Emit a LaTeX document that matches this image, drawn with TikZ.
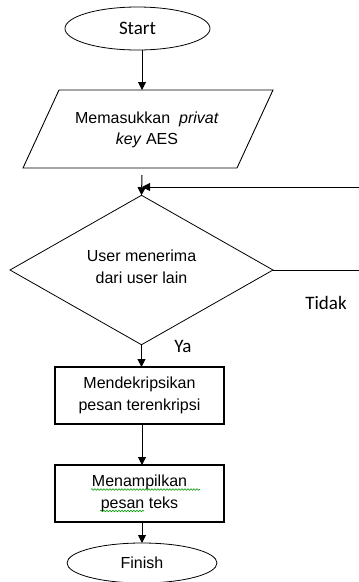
\documentclass[tikz,border=0pt]{standalone}
\usepackage{fontspec}
\setmainfont{Liberation Sans}
\newfontfamily\calfont{Carlito}
\usetikzlibrary{shapes.geometric,arrows.meta,decorations.pathmorphing}
\begin{document}
\begin{tikzpicture}[x=1pt,y=-1pt,
  every node/.style={font=\fontsize{16}{21.5}\selectfont, inner sep=0pt, outer sep=0pt},
  termbox/.style={draw, ellipse, line width=0.8pt},
  procbox/.style={draw, rectangle, line width=1.1pt, minimum width=169pt, minimum height=57pt, align=center},
  decbox/.style={draw, diamond, line width=0.8pt, minimum width=263pt, minimum height=114pt, align=center, text depth=7pt},
  iobox/.style={draw, line width=0.9pt},
  conn/.style={line width=1pt, -{Triangle[length=8pt,width=8pt]}},
  lbl/.style={font=\calfont\fontsize{19}{22}\selectfont},
  wavy/.style={draw=green!60!black, line width=0.6pt, decorate, decoration={snake, amplitude=0.8pt, segment length=3pt}}]
\useasboundingbox (0,0) rectangle (359,582);
\clip (0,0) rectangle (359,582);
% start
\node[termbox, minimum width=145pt, minimum height=43pt, font=\calfont\fontsize{19}{22}\selectfont] (start) at (137.5,28.5) {Start};
% input parallelogram
\draw[iobox] (59,90) -- (273,90) -- (237,168) -- (23,168) -- cycle;
\node[align=center] (input) at (147,130) {Memasukkan~ \textit{privat}\\\textit{key} AES};
\coordinate (intop) at (142,90);
\coordinate (inbot) at (142,175);
\coordinate (merge) at (142,187);
% decision
\node[decbox] (dec) at (141.5,270) {User menerima\\dari user lain};
% processes
\node[procbox] (r1) at (139.5,395.5) {Mendekripsikan\\pesan terenkripsi};
\node[procbox] (r2) at (139.5,493.5) {Menampilkan\\pesan teks};
% finish
\node[termbox, minimum width=150pt, minimum height=40pt] (fin) at (142,563) {Finish};
% labels
\node[lbl] (ya) at (183,346) {Ya};
\node[lbl] (tidak) at (326,303) {Tidak};
% connectors
\draw[conn] (start.south -| intop) -- (intop);
\draw[conn] (inbot) -- (dec.north);
\draw[conn] (dec.east) -- ++(92,0) |- (merge);
\draw[conn] (dec.south) -- (dec.south |- r1.north);
\draw[conn] (r1.south -| fin.north) -- (r2.north -| fin.north);
\draw[conn] (r2.south -| fin.north) -- (fin.north);
% spell-check underlines
\draw[wavy] (91,489.5) -- (200,489.5);
\draw[wavy] (100,511) -- (144,511);
\end{tikzpicture}
\end{document}
